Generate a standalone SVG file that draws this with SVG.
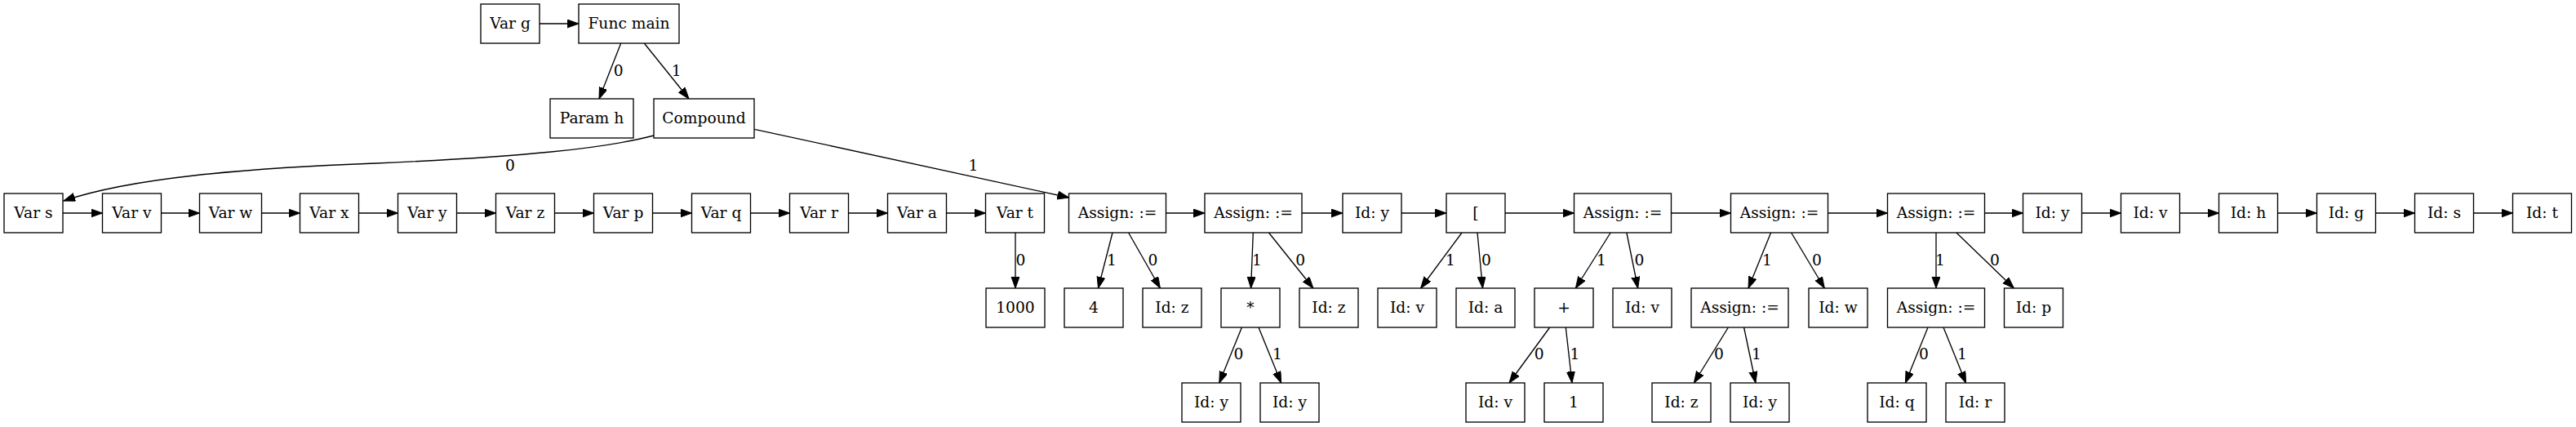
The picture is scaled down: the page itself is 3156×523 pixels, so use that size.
<svg xmlns="http://www.w3.org/2000/svg" width="3156" height="523" viewBox="0 0 3156 523">
<style>
.node rect{fill:#fff;stroke:#000;stroke-width:1.33}
text{font-family:"DejaVu Serif","Liberation Serif",serif;font-size:18.67px;fill:#000}
.node text{text-anchor:middle}
.edges line,.edges path{stroke:#000;stroke-width:1.33;fill:none;marker-end:url(#arr)}
.edges text{text-anchor:middle}
</style>
<defs>
<marker id="arr" markerUnits="userSpaceOnUse" markerWidth="15" markerHeight="11" refX="14" refY="5" orient="auto" viewBox="0 0 15 11">
<path d="M0,0 L14,5 L0,10 z" fill="#000" stroke="#000" stroke-width="1"/>
</marker>
</defs>
<rect width="3156" height="523" fill="#fff"/>
<g class="edges">
<line x1="661" y1="29" x2="709" y2="29"/>
<line x1="760.7" y1="53" x2="734" y2="121"/><text x="757.7" y="93">0</text>
<line x1="789.3" y1="53" x2="844" y2="121"/><text x="828.7" y="93">1</text>
<path d="M801,166 C740,182 640,192 460,200 C300,206 160,218 78,246"/><text x="625" y="208.7">0</text>
<line x1="924.3" y1="158.3" x2="1309.5" y2="242"/><text x="1192.4" y="208.7">1</text>
<line x1="77" y1="261" x2="125.5" y2="261"/>
<line x1="197.5" y1="261" x2="244.5" y2="261"/>
<line x1="320.5" y1="261" x2="367.5" y2="261"/>
<line x1="439.5" y1="261" x2="487.5" y2="261"/>
<line x1="559.5" y1="261" x2="607.5" y2="261"/>
<line x1="679.5" y1="261" x2="727.5" y2="261"/>
<line x1="799.5" y1="261" x2="847.5" y2="261"/>
<line x1="919.5" y1="261" x2="967.5" y2="261"/>
<line x1="1039.5" y1="261" x2="1087.5" y2="261"/>
<line x1="1159.5" y1="261" x2="1207.5" y2="261"/>
<line x1="1428.5" y1="261" x2="1476" y2="261"/>
<line x1="1595" y1="261" x2="1645" y2="261"/>
<line x1="1717" y1="261" x2="1772" y2="261"/>
<line x1="1844" y1="261" x2="1928.5" y2="261"/>
<line x1="2047.5" y1="261" x2="2120.5" y2="261"/>
<line x1="2239.5" y1="261" x2="2312.5" y2="261"/>
<line x1="2431.5" y1="261" x2="2478.5" y2="261"/>
<line x1="2550.5" y1="261" x2="2598.5" y2="261"/>
<line x1="2670.5" y1="261" x2="2718.5" y2="261"/>
<line x1="2790.5" y1="261" x2="2838.5" y2="261"/>
<line x1="2910.5" y1="261" x2="2958.5" y2="261"/>
<line x1="3030.5" y1="261" x2="3078.5" y2="261"/>
<line x1="1244" y1="285" x2="1244" y2="353"/><text x="1250.4" y="325">0</text>
<line x1="1363" y1="285" x2="1345.5" y2="353"/><text x="1362" y="325">1</text>
<line x1="1382.6" y1="285" x2="1421.4" y2="353"/><text x="1412.5" y="325">0</text>
<line x1="1535.3" y1="285" x2="1532.6" y2="353"/><text x="1540" y="325">1</text>
<line x1="1554.5" y1="285" x2="1608.9" y2="353"/><text x="1593.3" y="325">0</text>
<line x1="1791" y1="285" x2="1740.6" y2="353"/><text x="1777" y="325">1</text>
<line x1="1810" y1="285" x2="1816.5" y2="353"/><text x="1821" y="325">0</text>
<line x1="1973.2" y1="285" x2="1930.4" y2="353"/><text x="1962" y="325">1</text>
<line x1="1992.9" y1="285" x2="2006.7" y2="353"/><text x="2008.5" y="325">0</text>
<line x1="2169.6" y1="285" x2="2142" y2="353"/><text x="2165" y="325">1</text>
<line x1="2194.6" y1="285" x2="2235.3" y2="353"/><text x="2226" y="325">0</text>
<line x1="2372" y1="285" x2="2372" y2="353"/><text x="2377" y="325">1</text>
<line x1="2396.9" y1="285" x2="2467.4" y2="353"/><text x="2444" y="325">0</text>
<line x1="1521.4" y1="401" x2="1493.8" y2="469"/><text x="1517.4" y="440">0</text>
<line x1="1542" y1="401" x2="1569.6" y2="469"/><text x="1565" y="440">1</text>
<line x1="1898.7" y1="401" x2="1849" y2="469"/><text x="1885.7" y="440">0</text>
<line x1="1918.3" y1="401" x2="1926" y2="469"/><text x="1929.5" y="440">1</text>
<line x1="2117.4" y1="401" x2="2075.4" y2="469"/><text x="2106" y="440">0</text>
<line x1="2136.6" y1="401" x2="2150.9" y2="469"/><text x="2152" y="440">1</text>
<line x1="2362" y1="401" x2="2334.4" y2="469"/><text x="2357" y="440">0</text>
<line x1="2381" y1="401" x2="2408.5" y2="469"/><text x="2404" y="440">1</text>
</g>
<g id="n_varg" class="node"><rect x="589" y="5" width="72" height="48"/><text x="625" y="35">Var g</text></g>
<g id="n_main" class="node"><rect x="709" y="5" width="123" height="48"/><text x="770.5" y="35">Func main</text></g>
<g id="n_paramh" class="node"><rect x="674" y="121" width="102" height="48"/><text x="725" y="151">Param h</text></g>
<g id="n_compound" class="node"><rect x="801" y="121" width="123" height="48"/><text x="862.5" y="151">Compound</text></g>
<g id="n_var_s" class="node"><rect x="5" y="237" width="72" height="48"/><text x="41" y="267">Var s</text></g>
<g id="n_var_v" class="node"><rect x="125.5" y="237" width="72" height="48"/><text x="161.5" y="267">Var v</text></g>
<g id="n_var_w" class="node"><rect x="244.5" y="237" width="76" height="48"/><text x="282.5" y="267">Var w</text></g>
<g id="n_var_x" class="node"><rect x="367.5" y="237" width="72" height="48"/><text x="403.5" y="267">Var x</text></g>
<g id="n_var_y" class="node"><rect x="487.5" y="237" width="72" height="48"/><text x="523.5" y="267">Var y</text></g>
<g id="n_var_z" class="node"><rect x="607.5" y="237" width="72" height="48"/><text x="643.5" y="267">Var z</text></g>
<g id="n_var_p" class="node"><rect x="727.5" y="237" width="72" height="48"/><text x="763.5" y="267">Var p</text></g>
<g id="n_var_q" class="node"><rect x="847.5" y="237" width="72" height="48"/><text x="883.5" y="267">Var q</text></g>
<g id="n_var_r" class="node"><rect x="967.5" y="237" width="72" height="48"/><text x="1003.5" y="267">Var r</text></g>
<g id="n_var_a" class="node"><rect x="1087.5" y="237" width="72" height="48"/><text x="1123.5" y="267">Var a</text></g>
<g id="n_var_t" class="node"><rect x="1207.5" y="237" width="72" height="48"/><text x="1243.5" y="267">Var t</text></g>
<g id="n_assign1" class="node"><rect x="1309.5" y="237" width="119" height="48"/><text x="1369" y="267">Assign: :=</text></g>
<g id="n_assign2" class="node"><rect x="1476" y="237" width="119" height="48"/><text x="1535.5" y="267">Assign: :=</text></g>
<g id="n_id_y1" class="node"><rect x="1645" y="237" width="72" height="48"/><text x="1681" y="267">Id: y</text></g>
<g id="n_index" class="node"><rect x="1772" y="237" width="72" height="48"/><text x="1808" y="267">[</text></g>
<g id="n_assign3" class="node"><rect x="1928.5" y="237" width="119" height="48"/><text x="1988" y="267">Assign: :=</text></g>
<g id="n_assign4" class="node"><rect x="2120.5" y="237" width="119" height="48"/><text x="2180" y="267">Assign: :=</text></g>
<g id="n_assign5" class="node"><rect x="2312.5" y="237" width="119" height="48"/><text x="2372" y="267">Assign: :=</text></g>
<g id="n_id_y2" class="node"><rect x="2478.5" y="237" width="72" height="48"/><text x="2514.5" y="267">Id: y</text></g>
<g id="n_id_v1" class="node"><rect x="2598.5" y="237" width="72" height="48"/><text x="2634.5" y="267">Id: v</text></g>
<g id="n_id_h" class="node"><rect x="2718.5" y="237" width="72" height="48"/><text x="2754.5" y="267">Id: h</text></g>
<g id="n_id_g" class="node"><rect x="2838.5" y="237" width="72" height="48"/><text x="2874.5" y="267">Id: g</text></g>
<g id="n_id_s" class="node"><rect x="2958.5" y="237" width="72" height="48"/><text x="2994.5" y="267">Id: s</text></g>
<g id="n_id_t" class="node"><rect x="3078.5" y="237" width="72" height="48"/><text x="3114.5" y="267">Id: t</text></g>
<g id="n_c1000" class="node"><rect x="1208" y="353" width="72" height="48"/><text x="1244" y="383">1000</text></g>
<g id="n_c4" class="node"><rect x="1304" y="353" width="72" height="48"/><text x="1340" y="383">4</text></g>
<g id="n_id_z1" class="node"><rect x="1400" y="353" width="72" height="48"/><text x="1436" y="383">Id: z</text></g>
<g id="n_mul" class="node"><rect x="1496" y="353" width="72" height="48"/><text x="1532" y="383">*</text></g>
<g id="n_id_z2" class="node"><rect x="1592" y="353" width="72" height="48"/><text x="1628" y="383">Id: z</text></g>
<g id="n_id_v2" class="node"><rect x="1688" y="353" width="72" height="48"/><text x="1724" y="383">Id: v</text></g>
<g id="n_id_a" class="node"><rect x="1784" y="353" width="72" height="48"/><text x="1820" y="383">Id: a</text></g>
<g id="n_plus" class="node"><rect x="1880" y="353" width="72" height="48"/><text x="1916" y="383">+</text></g>
<g id="n_id_v3" class="node"><rect x="1976" y="353" width="72" height="48"/><text x="2012" y="383">Id: v</text></g>
<g id="n_assign6" class="node"><rect x="2072" y="353" width="119" height="48"/><text x="2131.5" y="383">Assign: :=</text></g>
<g id="n_id_w" class="node"><rect x="2216" y="353" width="72" height="48"/><text x="2252" y="383">Id: w</text></g>
<g id="n_assign7" class="node"><rect x="2312.5" y="353" width="119" height="48"/><text x="2372" y="383">Assign: :=</text></g>
<g id="n_id_p" class="node"><rect x="2455.5" y="353" width="72" height="48"/><text x="2491.5" y="383">Id: p</text></g>
<g id="n_id_y3" class="node"><rect x="1448" y="469" width="72" height="48"/><text x="1484" y="499">Id: y</text></g>
<g id="n_id_y4" class="node"><rect x="1544" y="469" width="72" height="48"/><text x="1580" y="499">Id: y</text></g>
<g id="n_id_v4" class="node"><rect x="1796" y="469" width="72" height="48"/><text x="1832" y="499">Id: v</text></g>
<g id="n_c1" class="node"><rect x="1892" y="469" width="72" height="48"/><text x="1928" y="499">1</text></g>
<g id="n_id_z3" class="node"><rect x="2024" y="469" width="72" height="48"/><text x="2060" y="499">Id: z</text></g>
<g id="n_id_y5" class="node"><rect x="2120" y="469" width="72" height="48"/><text x="2156" y="499">Id: y</text></g>
<g id="n_id_q" class="node"><rect x="2288" y="469" width="72" height="48"/><text x="2324" y="499">Id: q</text></g>
<g id="n_id_r" class="node"><rect x="2384" y="469" width="72" height="48"/><text x="2420" y="499">Id: r</text></g>
</svg>
